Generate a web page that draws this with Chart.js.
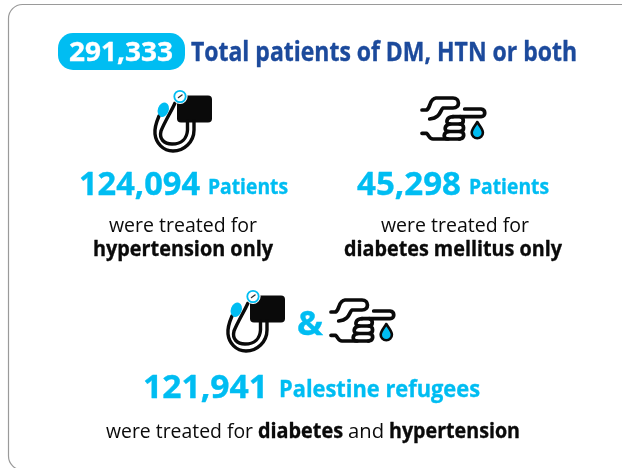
<!DOCTYPE html>
<html>
<head>
<meta charset="utf-8">
<title>Patients of DM, HTN or both</title>
<script src="https://cdn.jsdelivr.net/npm/chart.js@4/dist/chart.umd.min.js"></script>
<style>
    html, body { margin: 0; padding: 0; background: #fff; overflow: hidden; }
    canvas { display: block; }
</style>
</head>
<body>
<canvas id="patientsChart" width="622" height="468"></canvas>
<script>
var categories = ['Total', 'Hypertension only', 'Diabetes mellitus only', 'Diabetes and hypertension'];
var patientCounts = [291333, 124094, 45298, 121941];

var CYAN = '#00bdf2';
var NAVY = '#1c4a9c';
var BLACK = '#0a0a0a';
var FONT = '"Open Sans"';

function formatCount(value) {
    return value.toLocaleString('en-US');
}

// squeezes the text into the given width, Open Sans runs wider than the original type
function fitText(ctx, text, x, baseline, width, size, weight, color) {
    ctx.save();
    ctx.font = weight + ' ' + size + 'px ' + FONT;
    ctx.fillStyle = color;
    ctx.textAlign = 'left';
    ctx.textBaseline = 'alphabetic';
    ctx.translate(x, baseline);
    ctx.scale(width / ctx.measureText(text).width, 1);
    ctx.fillText(text, 0, 0);
    // the original bold is a bit heavier
    if (weight === 'bold') {
        ctx.strokeStyle = color;
        ctx.lineWidth = 0.35;
        ctx.lineJoin = 'round';
        ctx.strokeText(text, 0, 0);
    }
    ctx.restore();
}

function strokePath(ctx, d, width, color) {
    ctx.lineWidth = width;
    ctx.strokeStyle = color;
    ctx.lineCap = 'round';
    ctx.lineJoin = 'round';
    ctx.stroke(new Path2D(d));
}

function drawCuffIcon(ctx, x, y) {
    ctx.save();
    ctx.translate(x, y);

    ctx.fillStyle = BLACK;
    ctx.beginPath();
    ctx.roundRect(37, 10.5, 35, 27, 4);
    ctx.fill();

    strokePath(ctx, 'M35 18 C31 27 25 36 21 46 C19 54 24 59 32 59 C42 59 47 53 47.5 45 L47.5 36', 3.4, BLACK);
    strokePath(ctx, 'M19 31 C16 38 14.5 45 15 49 C16 58 23 66 33 66 C44 66 54 57 54 45 L54 36', 3.4, BLACK);

    ctx.fillStyle = '#fff';
    ctx.beginPath();
    ctx.arc(40, 11.5, 7.6, 0, Math.PI * 2);
    ctx.fill();
    ctx.strokeStyle = CYAN;
    ctx.lineWidth = 1.8;
    ctx.beginPath();
    ctx.arc(40, 11.5, 5.7, 0, Math.PI * 2);
    ctx.stroke();
    strokePath(ctx, 'M38.5 12.5 L42 10', 1.5, '#333');

    ctx.fillStyle = CYAN;
    ctx.beginPath();
    ctx.ellipse(23.3, 24.7, 5.4, 7.4, 0.35, 0, Math.PI * 2);
    ctx.fill();

    ctx.restore();
}

function drawHandIcon(ctx, x, y) {
    ctx.save();
    ctx.translate(x, y);

    var w = 3.7;
    // upper hand and thumb
    strokePath(ctx, 'M12 20 L16.5 20 C21 18 19 8.5 26 8 L43 8 C50 8 50.5 18 43 18 L33 18 C30 20 31 28 19.7 29', w, BLACK);
    // finger over the stack
    strokePath(ctx, 'M54.7 19 L71 19 C76 19.5 76 26.5 71 26.7 L43 26.7', w, BLACK);
    // lower hand
    strokePath(ctx, 'M12 43.3 L16.5 43.3 C19 45 19 49 23 49 L49.5 49', w, BLACK);
    // stack of fingers
    strokePath(ctx, 'M43 26.7 C36 27 35 34 40 34 L50 34 C54.5 33.5 54 27.5 50.5 26.7', w, BLACK);
    strokePath(ctx, 'M40 34 C34 35 33.5 41.5 39 41.5 L50 41.5 C55 41 54.5 34.5 50 34', w, BLACK);
    strokePath(ctx, 'M39 41.5 C33 42 32.5 49 38 49 M50 41.5 C55 42 55 48.5 49.5 49', w, BLACK);

    ctx.beginPath();
    ctx.moveTo(67.3, 32);
    ctx.bezierCurveTo(65, 36, 61.7, 39, 61.7, 42.7);
    ctx.arc(67.3, 42.7, 5.6, Math.PI, 0, true);
    ctx.bezierCurveTo(72.9, 39, 69.6, 36, 67.3, 32);
    ctx.closePath();
    ctx.fillStyle = CYAN;
    ctx.fill();
    ctx.strokeStyle = BLACK;
    ctx.lineWidth = 2.6;
    ctx.stroke();

    ctx.restore();
}

function drawFrame(ctx) {
    ctx.strokeStyle = '#9a9a9a';
    ctx.lineWidth = 1.2;
    ctx.beginPath();
    ctx.roundRect(8.5, 4.5, 640, 465.5, 14);
    ctx.stroke();
}

var infographicPlugin = {
    id: 'infographic',
    afterDraw: function (chart) {
        var ctx = chart.ctx;
        var counts = chart.data.datasets[0].data;
        var treated = 'were treated for';

        drawFrame(ctx);

        // headline
        ctx.fillStyle = CYAN;
        ctx.beginPath();
        ctx.roundRect(58, 33, 127, 37, 15);
        ctx.fill();
        fitText(ctx, formatCount(counts[0]), 69, 61, 104, 27, 'bold', '#fff');
        fitText(ctx, 'Total patients of DM, HTN or both', 191, 61, 386, 26, 'bold', NAVY);

        // hypertension only
        drawCuffIcon(ctx, 140, 85);
        fitText(ctx, formatCount(counts[1]), 79, 195, 121, 33, 'bold', CYAN);
        fitText(ctx, 'Patients', 208, 194, 80, 21, 'bold', CYAN);
        fitText(ctx, treated, 109, 232, 148, 20, 'normal', BLACK);
        fitText(ctx, 'hypertension only', 93, 256, 180, 21, 'bold', BLACK);

        // diabetes only
        drawHandIcon(ctx, 410, 90);
        fitText(ctx, formatCount(counts[2]), 357, 195, 104, 33, 'bold', CYAN);
        fitText(ctx, 'Patients', 469, 194, 80, 21, 'bold', CYAN);
        fitText(ctx, treated, 381, 232, 148, 20, 'normal', BLACK);
        fitText(ctx, 'diabetes mellitus only', 344, 256, 218, 21, 'bold', BLACK);

        // both
        drawCuffIcon(ctx, 213, 285);
        fitText(ctx, '&', 297, 335, 26, 34, 'bold', CYAN);
        drawHandIcon(ctx, 319, 292);
        fitText(ctx, formatCount(counts[3]), 143, 398, 125, 33, 'bold', CYAN);
        fitText(ctx, 'Palestine refugees', 279, 397, 201, 24, 'bold', CYAN);
        fitText(ctx, treated, 106, 438, 147, 20, 'normal', BLACK);
        fitText(ctx, 'diabetes', 258, 438, 85, 21, 'bold', BLACK);
        fitText(ctx, 'and', 348, 438, 36, 20, 'normal', BLACK);
        fitText(ctx, 'hypertension', 389, 438, 131, 21, 'bold', BLACK);
    }
};

function drawChart() {
    var ctx = document.getElementById('patientsChart').getContext('2d');

    // the reference has no bars or axes, the values only show up as the big numbers
    var patientsChart = new Chart(ctx, {
        type: 'bar',
        data: {
            labels: categories,
            datasets: [{
                data: patientCounts,
                backgroundColor: 'rgba(0,0,0,0)'
            }]
        },
        options: {
            responsive: false,
            animation: false,
            plugins: {
                legend: { display: false },
                tooltip: { enabled: false }
            },
            scales: {
                x: { display: false },
                y: { display: false }
            }
        },
        plugins: [infographicPlugin]
    });
}

document.fonts.load('bold 20px ' + FONT).then(function () {
    return document.fonts.load('20px ' + FONT);
}).then(drawChart, drawChart);
</script>
</body>
</html>
